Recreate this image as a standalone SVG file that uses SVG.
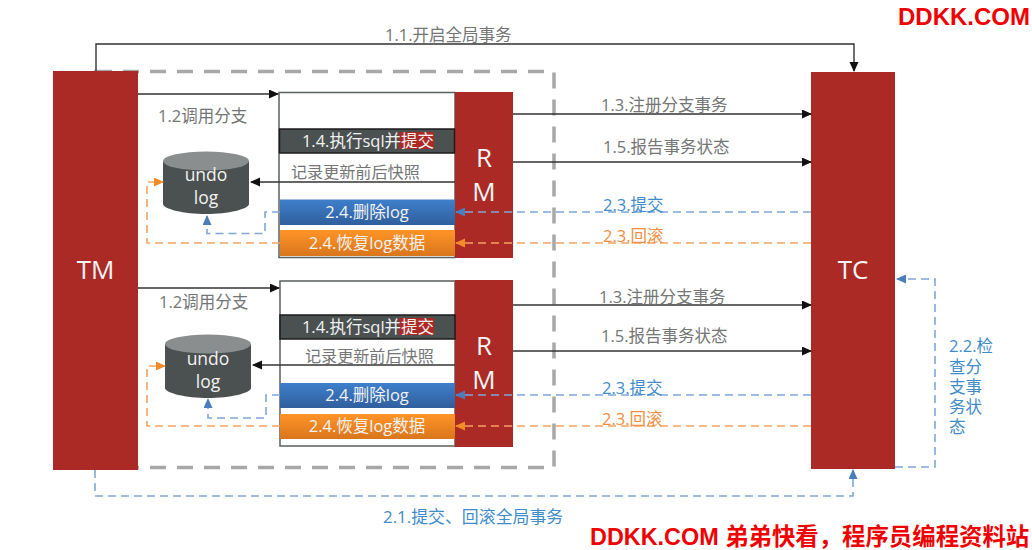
<svg xmlns="http://www.w3.org/2000/svg" width="1032" height="550" viewBox="0 0 1032 550">
<style>
text{font-family:"Open Sans","Noto Sans CJK SC",sans-serif;font-size:16.5px;fill:#747575}
.c{text-anchor:middle}
.w{fill:#f2f2f2}
.u{font-size:17.500px}
.s{font-size:16.100px}
.big{font-size:26px;fill:#f5f5f5}
.red{fill:#ab2a26}
.blu{fill:#3f8ccb}
.org{fill:#ef8f3f}
.k{fill:none;stroke:#333;stroke-width:1.4}
.b{fill:none;stroke:#7fa8d8;stroke-width:1.6;stroke-dasharray:8 5}
.o{fill:none;stroke:#f4a261;stroke-width:1.6;stroke-dasharray:8 5}
.wm{font-family:"Liberation Sans","Noto Sans CJK SC",sans-serif;font-weight:700;font-size:24px;fill:#f00000}
.box{fill:#fff;stroke:#5a5f5f;stroke-width:1.5}
.dark{fill:#4b5151;stroke:#1c1c1c;stroke-width:1.5}
</style>
<defs>
<marker id="ak" markerWidth="10" markerHeight="10" refX="9" refY="4.500" orient="auto" markerUnits="userSpaceOnUse"><path d="M0 0L10 4.500L0 9z" fill="#111"/></marker>
<marker id="ab" markerWidth="10" markerHeight="10" refX="9" refY="4.500" orient="auto" markerUnits="userSpaceOnUse"><path d="M0 0L10 4.500L0 9z" fill="#4a7ebb"/></marker>
<marker id="ao" markerWidth="10" markerHeight="10" refX="9" refY="4.500" orient="auto" markerUnits="userSpaceOnUse"><path d="M0 0L10 4.500L0 9z" fill="#f28c28"/></marker>
<linearGradient id="gb" x1="0" y1="0" x2="0" y2="1"><stop offset="0" stop-color="#3f7fcb"/><stop offset="1" stop-color="#2f5f9d"/></linearGradient>
<linearGradient id="go" x1="0" y1="0" x2="0" y2="1"><stop offset="0" stop-color="#ff9428"/><stop offset="1" stop-color="#d9761c"/></linearGradient>
</defs>
<rect id="tx-boundary" x="96" y="71.500" width="458" height="396" fill="none" stroke="#a8a8a8" stroke-width="3.500" stroke-dasharray="16 11"/>

<g id="rm1">
<rect class="box" x="279" y="92.500" width="176" height="165"/>
<rect class="red" x="455" y="92" width="58" height="166"/>
<text class="big c" x="484" y="167">R</text><text class="big c" x="484" y="201">M</text>
</g>
<g id="rm2">
<rect class="box" x="280" y="281" width="175" height="165"/>
<rect class="red" x="455" y="280" width="58" height="167"/>
<text class="big c" x="484" y="355">R</text><text class="big c" x="484" y="389">M</text>
</g>

<g id="tm"><rect class="red" x="53" y="71" width="85" height="399"/><text class="big c" x="95.500" y="279">TM</text></g>
<g id="tc"><rect class="red" x="811" y="72" width="84" height="397"/><text class="big c" x="853" y="279">TC</text></g>

<g id="exec1"><rect class="dark" x="279.500" y="129" width="175" height="24"/>
<rect class="red" x="399" y="132" width="35" height="17"/>
<text class="c w" x="368" y="147">1.4.执行sql并提交</text></g>
<g id="exec2"><rect class="dark" x="280" y="315" width="175" height="24"/>
<rect class="red" x="399" y="318" width="35" height="17"/>
<text class="c w" x="368" y="333">1.4.执行sql并提交</text></g>

<g id="del1"><rect x="280" y="199.500" width="175" height="25.500" fill="url(#gb)"/><text class="c w" x="367" y="218">2.4.删除log</text></g>
<g id="rec1"><rect x="280" y="230" width="175" height="26" fill="url(#go)"/><text class="c w" x="367" y="249">2.4.恢复log数据</text></g>
<g id="del2"><rect x="280" y="383" width="175" height="25" fill="url(#gb)"/><text class="c w" x="367" y="401">2.4.删除log</text></g>
<g id="rec2"><rect x="280" y="414" width="175" height="25" fill="url(#go)"/><text class="c w" x="367" y="432">2.4.恢复log数据</text></g>

<g id="undo1"><path d="M163 161V204C163 209 184 214 206 214S249 209 249 204V161z" fill="#4b5151"/><ellipse cx="206" cy="161" rx="43" ry="9.500" fill="#8a8e8e"/><text class="c w u" x="206" y="181">undo</text><text class="c w u" x="206" y="204">log</text></g>
<g id="undo2"><path d="M165 344V388C165 393 186 398 208 398S251 393 251 388V344z" fill="#4b5151"/><ellipse cx="208" cy="344" rx="43" ry="9.500" fill="#8a8e8e"/><text class="c w u" x="208" y="365">undo</text><text class="c w u" x="208" y="388">log</text></g>

<g id="connectors">
<path class="k" d="M96 71V44H854V71" marker-end="url(#ak)"/>
<path class="k" d="M138 94H278" marker-end="url(#ak)"/>
<path class="k" d="M138 288H279" marker-end="url(#ak)"/>
<path class="k" d="M455 182H251" marker-end="url(#ak)"/>
<path class="k" d="M455 365H253" marker-end="url(#ak)"/>
<path class="k" d="M513 114H811" marker-end="url(#ak)"/>
<path class="k" d="M513 162H811" marker-end="url(#ak)"/>
<path class="k" d="M513 305H811" marker-end="url(#ak)"/>
<path class="k" d="M513 351H811" marker-end="url(#ak)"/>
<path class="b" d="M811 212H456" marker-end="url(#ab)"/>
<path class="o" d="M811 243H456" marker-end="url(#ao)"/>
<path class="b" d="M811 395H456" marker-end="url(#ab)"/>
<path class="o" d="M811 426H456" marker-end="url(#ao)"/>
<path class="b" d="M280 212H265V233.500H207V216" marker-end="url(#ab)"/>
<path class="o" d="M280 243H147V182H163" marker-end="url(#ao)"/>
<path class="b" d="M280 395H266V418H208V399" marker-end="url(#ab)"/>
<path class="o" d="M280 426H147V366H165" marker-end="url(#ao)"/>
<path class="b" d="M95 470V496H853V470" marker-end="url(#ab)"/>
<path class="b" d="M895 467H935V279H897" marker-end="url(#ab)"/>
</g>

<g id="labels">
<text x="385" y="41">1.1.开启全局事务</text>
<text x="158" y="122">1.2调用分支</text>
<text x="159" y="308">1.2调用分支</text>
<text class="s" x="291" y="178">记录更新前后快照</text>
<text class="s" x="305" y="362">记录更新前后快照</text>
<text x="601" y="111">1.3.注册分支事务</text>
<text x="603" y="153">1.5.报告事务状态</text>
<text x="599" y="303">1.3.注册分支事务</text>
<text x="601" y="342">1.5.报告事务状态</text>
<text class="blu" x="603" y="211">2.3.提交</text>
<text class="org" x="603" y="242">2.3.回滚</text>
<text class="blu" x="602" y="394">2.3.提交</text>
<text class="org" x="602" y="425">2.3.回滚</text>
<text class="blu" x="383" y="523" style="font-size:16.900px">2.1.提交、回滚全局事务</text>
<text class="blu"><tspan x="949" y="352">2.2.检</tspan><tspan x="949" y="373">查分</tspan><tspan x="949" y="393">支事</tspan><tspan x="949" y="413">务状</tspan><tspan x="949" y="433">态</tspan></text>
<text class="wm" x="898" y="25">DDKK.COM</text>
<text class="wm" x="590" y="545" style="font-size:23.400px">DDKK.COM 弟弟快看，程序员编程资料站</text>
</g>
</svg>
